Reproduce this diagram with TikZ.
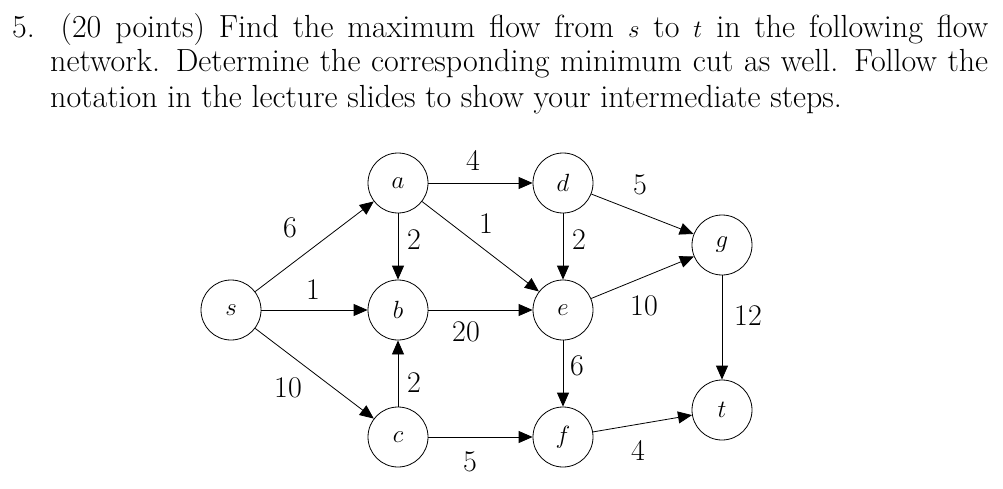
\documentclass[tikz,border=0pt]{standalone}
\usetikzlibrary{arrows.meta}
\begin{document}
\begin{tikzpicture}[x=1pt,y=-1pt,
  v/.style={circle,draw,thick,minimum size=60pt,inner sep=0pt,font=\fontsize{34}{36}\selectfont},
  e/.style={-{Triangle[length=14pt,width=12pt]},thick},
  l/.style={font=\fontsize{30}{32}\selectfont},
  txt/.style={anchor=base west,inner sep=0pt,font=\fontsize{32}{36}\selectfont}]
\useasboundingbox (0,0) rectangle (1003,489);
\node[txt] (l1) at (12,38) {\makebox[976pt][s]{5. (20 points) Find the maximum flow from $s$ to $t$ in the following flow}};
\node[txt] (l2) at (50,72) {\makebox[938pt][s]{network. Determine the corresponding minimum cut as well. Follow the}};
\node[txt] (l3) at (50,108) {notation in the lecture slides to show your intermediate steps.};
\node[v] (s) at (231,310) {$s$};
\node[v] (a) at (398,183) {$a$};
\node[v] (b) at (398,310) {$b$};
\node[v] (c) at (398,437) {$c$};
\node[v] (d) at (563,183) {$d$};
\node[v] (e) at (563,310) {$e$};
\node[v] (f) at (563,437) {$f$};
\node[v] (g) at (722,245) {$g$};
\node[v] (t) at (722,410) {$t$};
\draw[e] (s) -- (a);
\draw[e] (s) -- (b);
\draw[e] (s) -- (c);
\draw[e] (a) -- (d);
\draw[e] (a) -- (b);
\draw[e] (a) -- (e);
\draw[e] (c) -- (b);
\draw[e] (b) -- (e);
\draw[e] (c) -- (f);
\draw[e] (d) -- (e);
\draw[e] (d) -- (g);
\draw[e] (e) -- (g);
\draw[e] (e) -- (f);
\draw[e] (g) -- (t);
\draw[e] (f) -- (t);
\node[l] (w1) at (290,228) {6};
\node[l] (w2) at (313,290) {1};
\node[l] (w3) at (288,388) {10};
\node[l] (w4) at (473,160) {4};
\node[l] (w5) at (414,240) {2};
\node[l] (w6) at (486,224) {1};
\node[l] (w7) at (579,240) {2};
\node[l] (w8) at (640,185) {5};
\node[l] (w9) at (466,332) {20};
\node[l] (w10) at (414,383) {2};
\node[l] (w11) at (644,306) {10};
\node[l] (w12) at (748,316) {12};
\node[l] (w13) at (577,366) {6};
\node[l] (w14) at (470,462) {5};
\node[l] (w15) at (638,450) {4};
\end{tikzpicture}
\end{document}
